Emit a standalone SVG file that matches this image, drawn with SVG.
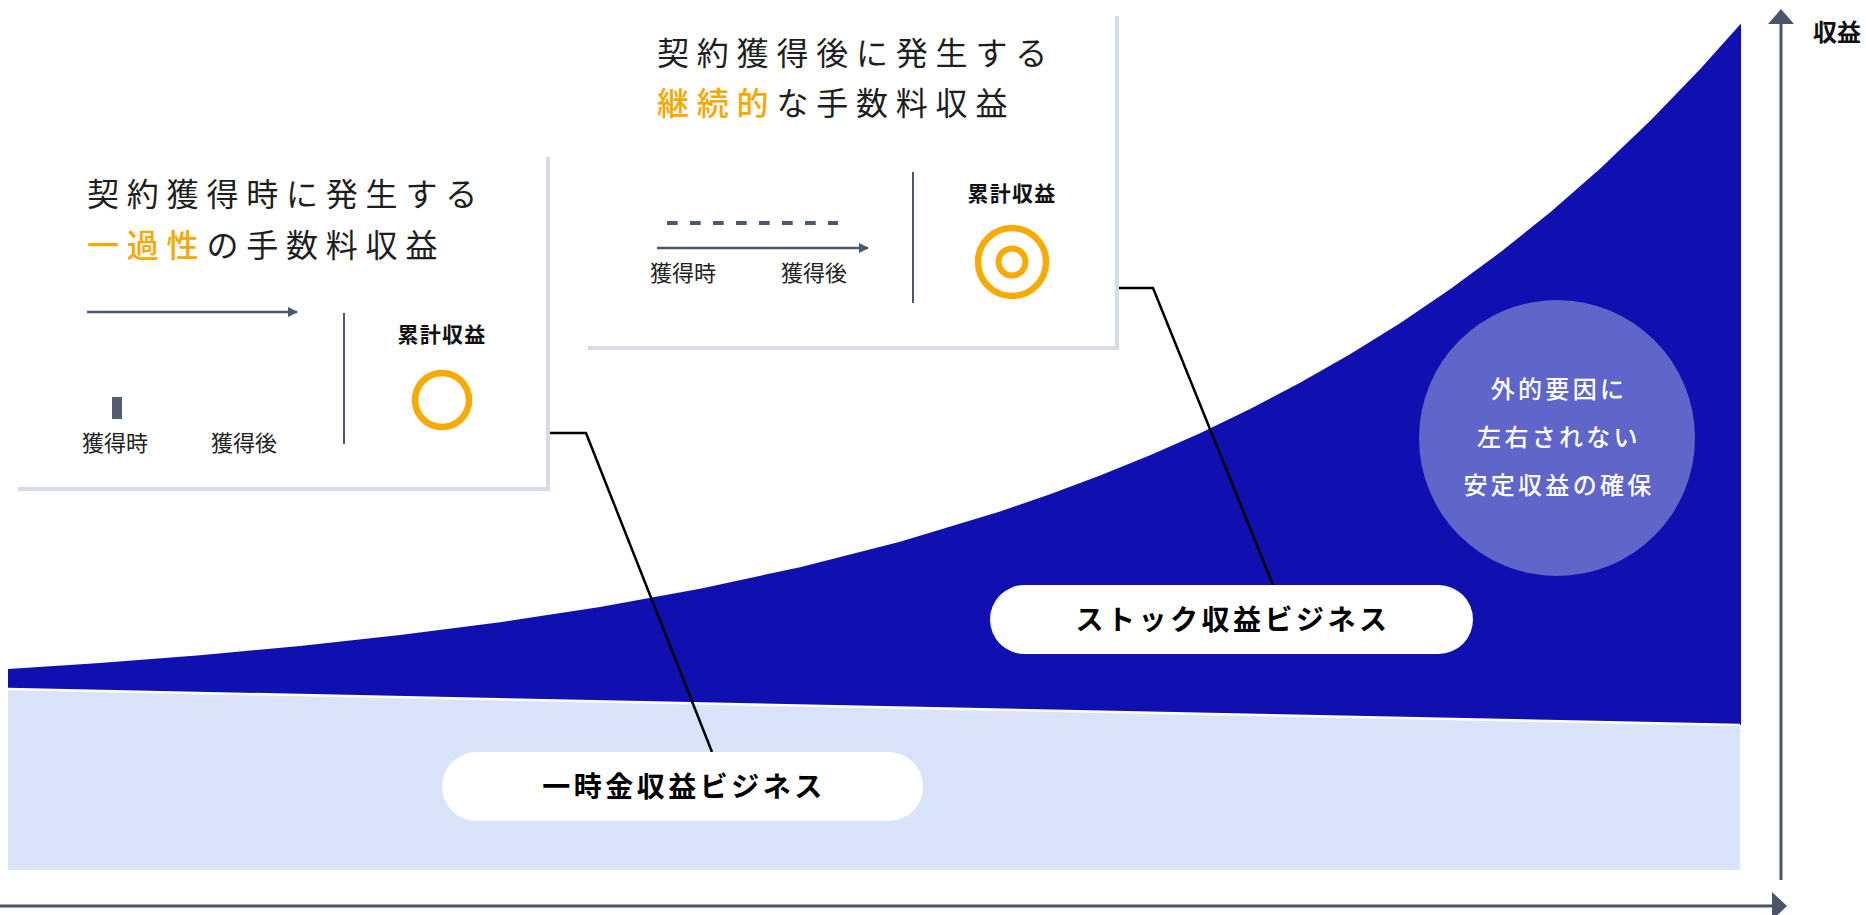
<svg xmlns="http://www.w3.org/2000/svg" width="1866" height="915" viewBox="0 0 1866 915">
<defs>
<style>
.jp{font-family:"Noto Sans CJK JP","Noto Sans",sans-serif;}
.title{font-size:32px;letter-spacing:7.8px;fill:#1e1e1e;font-weight:400;}
.hl{fill:#f5a800;font-weight:500;}
.lbl{font-size:22px;fill:#222;}
.sum{font-size:21px;font-weight:700;fill:#111;letter-spacing:1.3px;}
.pill{fill:#ffffff;}
.pilltxt{font-size:28px;font-weight:700;fill:#000;letter-spacing:3.5px;}
.shadow{fill:#d5dce6;}
.card{fill:#ffffff;}
.axis{stroke:#49556a;stroke-width:3;fill:none;}
.axhead{fill:#49556a;}
.slate{stroke:#4b5870;stroke-width:2.5;fill:none;}
.conn{stroke:#000;stroke-width:2.5;fill:none;stroke-linejoin:miter;}
.ring{fill:none;stroke:#f7aa00;}
.circtxt{font-size:24px;fill:#fff;font-weight:500;letter-spacing:3.3px;}
</style>
<marker id="ah" viewBox="0 0 10 10" refX="9" refY="5" markerWidth="4" markerHeight="4" orient="auto" markerUnits="strokeWidth">
<path d="M0,0 L10,5 L0,10 Z" fill="#4b5870"/>
</marker>
</defs>
<rect x="0" y="0" width="1866" height="915" fill="#ffffff"/>

<g id="chart-areas">
<path id="stock-area" fill="#1010b0" d="M8,669 L100,662.9 L200,655.2 L300,646 L400,635.1 L500,622.2 L600,606.9 L700,588.7 L800,567.2 L900,541.7 L1000,511.5 L1050,494.3 L1100,475.6 L1150,455.3 L1200,433.2 L1250,409.1 L1300,382.8 L1350,354.3 L1400,323.2 L1450,289.3 L1500,252.5 L1550,212.4 L1600,168.7 L1650,121.1 L1700,69.3 L1741,23.5 L1741,725 L8,689 Z"/>
<path id="onetime-area" fill="#d9e4fb" d="M8,689 L1740,725 L1740,870 L8,870 Z"/>
<line x1="8" y1="689" x2="1740" y2="725" stroke="#ffffff" stroke-width="2.5"/>
</g>

<g id="axes">
<line class="axis" x1="1781" y1="880" x2="1781" y2="22"/>
<polygon class="axhead" points="1781,9 1768,24 1794,24"/>
<line class="axis" x1="0" y1="906" x2="1774" y2="906"/>
<polygon class="axhead" points="1787,906 1772,892 1772,920"/>
<text class="jp" x="1813" y="41" font-size="24" font-weight="700" fill="#111">収益</text>
</g>

<g id="connectors">
<polyline class="conn" points="550,433 586,433 712,752"/>
<polyline class="conn" points="1119,288 1153,288 1273,585"/>
</g>

<g id="card-onetime">
<rect class="shadow" x="18" y="157" width="532" height="334"/>
<rect class="card" x="14" y="153" width="532" height="334"/>
<text class="jp title" x="87" y="206">契約獲得時に発生する</text>
<text class="jp title" x="87" y="257"><tspan class="hl">一過性</tspan>の手数料収益</text>
<line class="slate" x1="87" y1="312" x2="297" y2="312" marker-end="url(#ah)"/>
<rect x="112" y="397" width="10" height="22" fill="#525e72"/>
<text class="jp lbl" x="82" y="451">獲得時</text>
<text class="jp lbl" x="211" y="451">獲得後</text>
<line x1="344" y1="313" x2="344" y2="444" stroke="#4b5870" stroke-width="2"/>
<text class="jp sum" x="442" y="342" text-anchor="middle">累計収益</text>
<circle class="ring" cx="442" cy="400" r="27" stroke-width="6.5"/>
</g>

<g id="card-recurring">
<rect class="shadow" x="588" y="16" width="531" height="334"/>
<rect class="card" x="584" y="12" width="531" height="334"/>
<text class="jp title" x="657" y="65">契約獲得後に発生する</text>
<text class="jp title" x="657" y="115"><tspan class="hl">継続的</tspan>な手数料収益</text>
<line x1="667" y1="223" x2="838" y2="223" stroke="#4b5870" stroke-width="4" stroke-dasharray="10.7 12.3"/>
<line class="slate" x1="657" y1="248" x2="868" y2="248" marker-end="url(#ah)"/>
<text class="jp lbl" x="650" y="281">獲得時</text>
<text class="jp lbl" x="781" y="281">獲得後</text>
<line x1="913" y1="172" x2="913" y2="303" stroke="#4b5870" stroke-width="2"/>
<text class="jp sum" x="1012" y="201" text-anchor="middle">累計収益</text>
<circle class="ring" cx="1012" cy="262" r="34" stroke-width="6.5"/>
<circle class="ring" cx="1012" cy="262" r="13.5" stroke-width="6"/>
</g>

<g id="stable-circle">
<circle cx="1557" cy="438" r="138" fill="#6065c9"/>
<text class="jp circtxt" x="1559" y="398" text-anchor="middle">外的要因に</text>
<text class="jp circtxt" x="1559" y="446" text-anchor="middle">左右されない</text>
<text class="jp circtxt" x="1559" y="494" text-anchor="middle">安定収益の確保</text>
</g>

<g id="pill-onetime">
<rect class="pill" x="442" y="752" width="481" height="69" rx="34.5"/>
<text class="jp pilltxt" x="684" y="797" text-anchor="middle">一時金収益ビジネス</text>
</g>

<g id="pill-stock">
<rect class="pill" x="990" y="585" width="483" height="69" rx="34.5"/>
<text class="jp pilltxt" x="1233" y="630" text-anchor="middle">ストック収益ビジネス</text>
</g>
</svg>
